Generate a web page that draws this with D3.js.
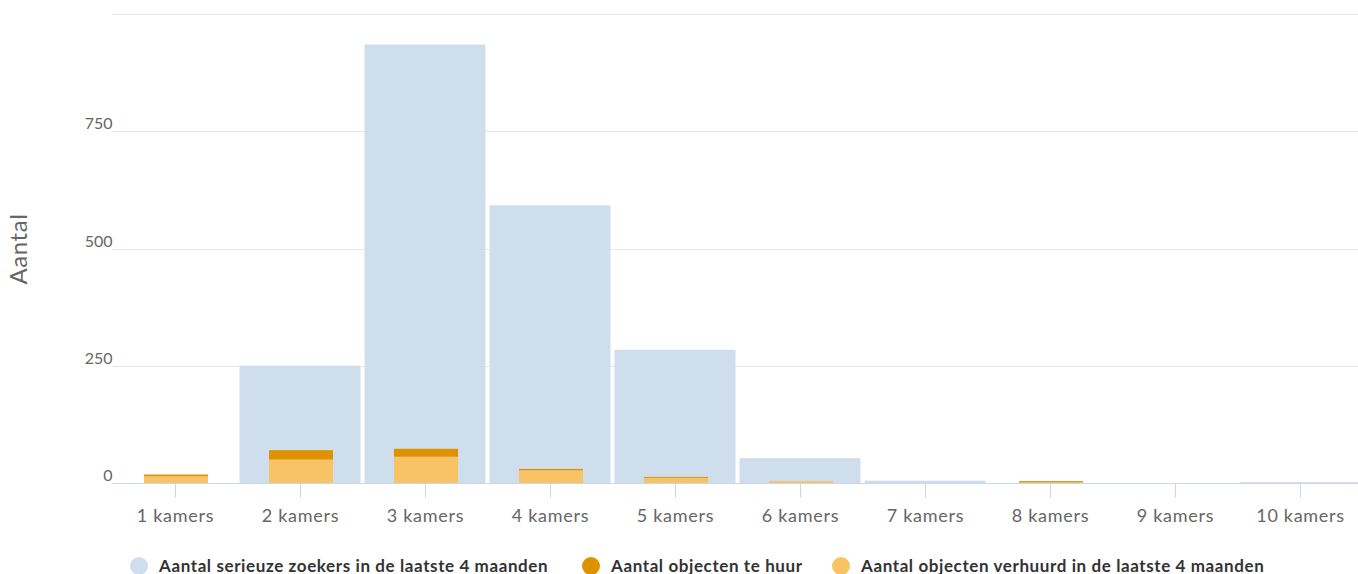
<!DOCTYPE html>
<html>
<head>
<meta charset="utf-8">
<script src="https://cdn.jsdelivr.net/npm/d3@7"></script>
<style>
  body { margin: 0; background: #fff; }
  svg { display: block; font-family: Lato, "Open Sans", sans-serif; }
</style>
</head>
<body>
<div id="chart"></div>
<script>
var categories = ["1 kamers", "2 kamers", "3 kamers", "4 kamers", "5 kamers",
                  "6 kamers", "7 kamers", "8 kamers", "9 kamers", "10 kamers"];
var zoekers   = [0, 250, 935, 592, 284, 53, 5, 0, 0, 2];   // Aantal serieuze zoekers
var teHuur    = [4, 20, 17, 3, 2, 0, 0, 3, 0, 0];          // Aantal objecten te huur
var verhuurd  = [14, 50, 56, 27, 11, 4, 0, 1, 0, 0];       // Aantal objecten verhuurd
var yTicks = [0, 250, 500, 750, 1000];
var yLabels = [0, 250, 500, 750];

var seriesNames = ["Aantal serieuze zoekers in de laatste 4 maanden",
                   "Aantal objecten te huur",
                   "Aantal objecten verhuurd in de laatste 4 maanden"];
var colors = ["#cfdeed", "#e09100", "#f8c364"];

var W = 1358, H = 574;
var m = {left: 112.5, right: -4.5, top: 14, bottom: 91};

var svg = d3.select("#chart").append("svg")
    .attr("width", W).attr("height", H);

var x = d3.scaleBand().domain(categories)
    .range([m.left, W - m.right]).paddingInner(0).paddingOuter(0);
var y = d3.scaleLinear().domain([0, 1000]).range([H - m.bottom, m.top]);

// gridlines
svg.append("g").selectAll("line").data(yTicks).enter().append("line")
    .attr("x1", m.left).attr("x2", W)
    .attr("y1", function(d) { return Math.round(y(d)) + 0.5; })
    .attr("y2", function(d) { return Math.round(y(d)) + 0.5; })
    .attr("stroke", "#e6e6e6").attr("stroke-width", 1);

// y labels
svg.append("g").selectAll("text").data(yLabels).enter().append("text")
    .attr("x", m.left).attr("y", function(d) { return y(d) - 2; })
    .attr("text-anchor", "end")
    .attr("font-size", 16).attr("fill", "#666")
    .text(function(d) { return d; });

// y title
svg.append("text")
    .attr("transform", "translate(27,249) rotate(-90)")
    .attr("text-anchor", "middle")
    .attr("font-size", 24).attr("letter-spacing", 0.6).attr("fill", "#666")
    .text("Aantal");

// zoekers bars (wide, behind)
var bw = x.bandwidth();
svg.append("g").selectAll("rect").data(categories).enter().append("rect")
    .attr("x", function(d) { return x(d) + 2; })
    .attr("width", bw - 4)
    .attr("y", function(d, i) { return y(zoekers[i]); })
    .attr("height", function(d, i) { return y(0) - y(zoekers[i]); })
    .attr("fill", colors[0]);

// stacked orange bars
var rows = categories.map(function(c, i) {
  return {cat: c, verhuurd: verhuurd[i], teHuur: teHuur[i]};
});
var stack = d3.stack().keys(["verhuurd", "teHuur"])(rows);
var stackColors = {verhuurd: colors[2], teHuur: colors[1]};
var ow = 64;

svg.append("g").selectAll("g").data(stack).enter().append("g")
    .attr("fill", function(s) { return stackColors[s.key]; })
    .selectAll("rect").data(function(s) { return s; }).enter().append("rect")
    .attr("x", function(d) { return x(d.data.cat) + bw / 2 - ow / 2 + 1; })
    .attr("width", ow)
    .attr("y", function(d) { return y(d[1]); })
    .attr("height", function(d) { return y(d[0]) - y(d[1]); });

// x axis
var xAxis = svg.append("g")
    .attr("transform", "translate(0," + (Math.round(y(0)) + 0.5) + ")");
xAxis.append("line").attr("x1", m.left).attr("x2", W)
    .attr("stroke", "#ccd6eb");
var xt = xAxis.selectAll("g.tick").data(categories).enter().append("g")
    .attr("transform", function(d) { return "translate(" + (Math.round(x(d) + bw / 2) + 0.5) + ",0)"; });
xt.append("line").attr("y2", 14).attr("stroke", "#ccd6eb");
xt.append("text").attr("y", 38).attr("text-anchor", "middle")
    .attr("font-size", 18).attr("letter-spacing", 0.7).attr("fill", "#666")
    .text(function(d) { return d; });

// legend
var legendX = [139, 591, 841];
var lg = svg.append("g").selectAll("g").data(seriesNames).enter().append("g")
    .attr("transform", function(d, i) { return "translate(" + legendX[i] + ",566)"; });
lg.append("circle").attr("r", 9).attr("fill", function(d, i) { return colors[i]; });
lg.append("text").attr("x", 20).attr("y", 6)
    .attr("font-size", 17).attr("font-weight", "bold").attr("letter-spacing", 0.6).attr("fill", "#333")
    .text(function(d) { return d; });
</script>
</body>
</html>
